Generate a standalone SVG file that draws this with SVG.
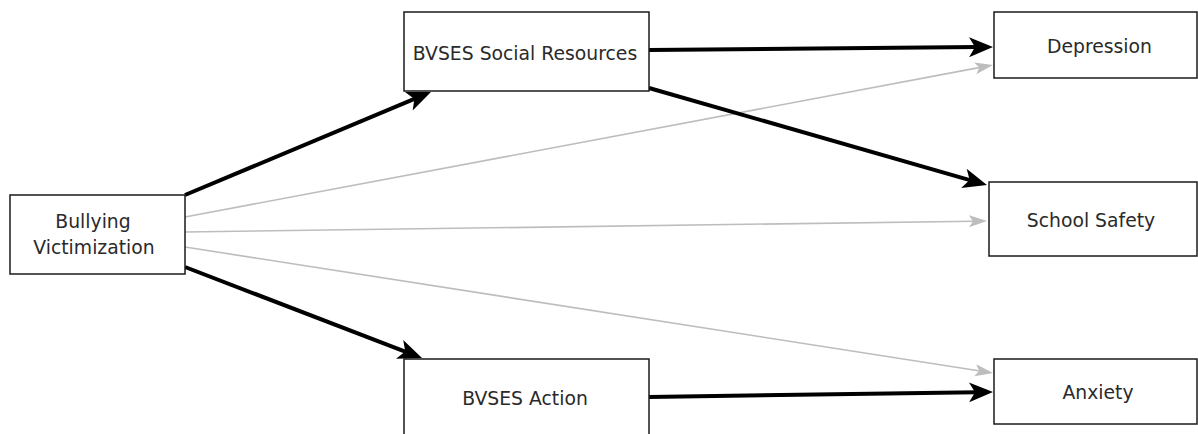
<svg xmlns="http://www.w3.org/2000/svg" width="1198" height="434" viewBox="0 0 1198 434">
  <style>
    .box { fill: #ffffff; stroke: #1a1a1a; stroke-width: 1.5; }
    .lbl { font-family: "DejaVu Sans", "Verdana", sans-serif; font-size: 18.8px; fill: #2a2a2a; text-anchor: middle; }
    .strong { stroke: #000000; stroke-width: 4; fill: none; }
    .weak { stroke: #bdbdbd; stroke-width: 1.6; fill: none; }
  </style>
  <defs>
    <marker id="ahBlack" markerUnits="userSpaceOnUse" markerWidth="26" markerHeight="22" viewBox="0 -11 26 22" refX="8" refY="0" orient="auto">
      <path d="M0,-10 L24,0 L0,10 L6,0 Z" fill="#000000"/>
    </marker>
    <marker id="ahGray" markerUnits="userSpaceOnUse" markerWidth="20" markerHeight="14" viewBox="0 -7 20 14" refX="5" refY="0" orient="auto">
      <path d="M0,-6 L18,0 L0,6 L4,0 Z" fill="#bdbdbd"/>
    </marker>
  </defs>
  <rect width="1198" height="434" fill="#ffffff"/>
  <g id="connectors">
    <line class="weak" x1="185" y1="217" x2="980.2" y2="67.4" marker-end="url(#ahGray)"/>
    <line class="weak" x1="185" y1="232" x2="974" y2="221.2" marker-end="url(#ahGray)"/>
    <line class="weak" x1="185" y1="247" x2="980.2" y2="371" marker-end="url(#ahGray)"/>
    <line class="strong" x1="185" y1="195" x2="416.2" y2="98.2" marker-end="url(#ahBlack)"/>
    <line class="strong" x1="185" y1="267" x2="407.1" y2="352.3" marker-end="url(#ahBlack)"/>
    <line class="strong" x1="649" y1="50" x2="977" y2="47.1" marker-end="url(#ahBlack)"/>
    <line class="strong" x1="649" y1="88" x2="971.6" y2="180.6" marker-end="url(#ahBlack)"/>
    <line class="strong" x1="649" y1="397" x2="977" y2="392.2" marker-end="url(#ahBlack)"/>
  </g>
  <g id="bullying">
    <rect class="box" x="10" y="195" width="175" height="79"/>
    <text class="lbl" x="93" y="228">Bullying</text>
    <text class="lbl" x="94" y="254">Victimization</text>
  </g>
  <g id="social">
    <rect class="box" x="404" y="12" width="245" height="79"/>
    <text class="lbl" x="525" y="60">BVSES Social Resources</text>
  </g>
  <g id="action">
    <rect class="box" x="404" y="359" width="245" height="90"/>
    <text class="lbl" x="525" y="405">BVSES Action</text>
  </g>
  <g id="depression">
    <rect class="box" x="994" y="12" width="203" height="66"/>
    <text class="lbl" x="1099.5" y="53">Depression</text>
  </g>
  <g id="safety">
    <rect class="box" x="989" y="182" width="208" height="74"/>
    <text class="lbl" x="1091" y="227">School Safety</text>
  </g>
  <g id="anxiety">
    <rect class="box" x="994" y="359" width="203" height="65"/>
    <text class="lbl" x="1098" y="399">Anxiety</text>
  </g>
</svg>
